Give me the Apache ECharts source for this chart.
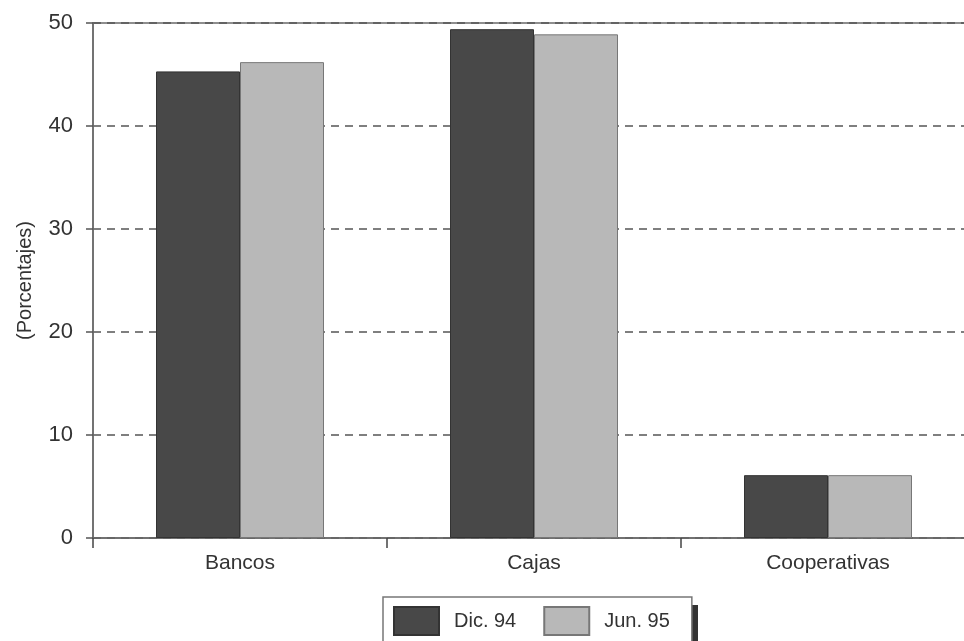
<!DOCTYPE html>
<html><head><meta charset="utf-8">
<script src="https://cdn.jsdelivr.net/npm/echarts@6/dist/echarts.min.js"></script>
<style>html,body{margin:0;padding:0;background:#fff}#c{width:964px;height:641px}</style>
</head><body><div id="c"></div>
<script>
const categories = ['Bancos', 'Cajas', 'Cooperativas'];
const dic94 = [45.3, 49.4, 6.1];
const jun95 = [46.2, 48.9, 6.1];
const yTicks = [0, 10, 20, 30, 40, 50];
const seriesNames = ['Dic. 94', 'Jun. 95'];
const FONT = '"Liberation Sans", Arial, sans-serif';
const chart = echarts.init(document.getElementById('c'));
chart.setOption({
  animation: false,
  backgroundColor: '#fff',
  textStyle: {fontFamily: FONT},
  grid: {left: 93, top: 23, bottom: 103, width: 882, outerBoundsMode: 'none', containLabel: false,
         show: true, borderColor: '#6a6a6a', borderWidth: 1.5, backgroundColor: 'transparent'},
  graphic: [{type: 'rect', left: 390, top: 605, shape: {width: 308, height: 40}, style: {fill: '#333'}, z: 0, silent: true}],
  legend: {
    left: 383, top: 597, itemWidth: 45, itemHeight: 28, itemGap: 27,
    padding: [9, 22, 8, 10], z: 5,
    borderColor: '#777', borderWidth: 1.5, backgroundColor: '#fff',
    icon: 'rect',
    textStyle: {fontFamily: FONT, fontSize: 20, color: '#333', padding: [0, 0, 0, 10]},
    data: seriesNames
  },
  xAxis: {
    type: 'category', data: categories,
    axisLine: {lineStyle: {color: '#6a6a6a', width: 1.5}},
    axisTick: {show: true, length: 10, inside: false, lineStyle: {color: '#444', width: 1.5}},
    axisLabel: {fontFamily: FONT, fontSize: 21, color: '#333', margin: 15},
    splitLine: {show: false}
  },
  yAxis: {
    type: 'value', min: yTicks[0], max: yTicks[yTicks.length - 1], interval: 10,
    name: '(Porcentajes)', nameLocation: 'middle', nameGap: 58, nameRotate: 90,
    nameTextStyle: {fontFamily: FONT, fontSize: 20, color: '#333'},
    axisLine: {show: true, lineStyle: {color: '#6a6a6a', width: 1.5}},
    axisTick: {show: true, length: 7, lineStyle: {color: '#555', width: 1.5}},
    axisLabel: {fontFamily: FONT, fontSize: 22, color: '#333', margin: 20},
    splitLine: {show: true, lineStyle: {color: '#555', type: [8, 6], width: 1.5}}
  },
  series: [
    {name: seriesNames[0], type: 'bar', data: dic94, barWidth: 84, barGap: '0%',
     itemStyle: {color: '#484848', borderColor: '#333', borderWidth: 1}, z: 3},
    {name: seriesNames[1], type: 'bar', data: jun95, barWidth: 84, barGap: '0%',
     itemStyle: {color: '#b8b8b8', borderColor: '#777', borderWidth: 1}, z: 3}
  ]
});
</script></body></html>
